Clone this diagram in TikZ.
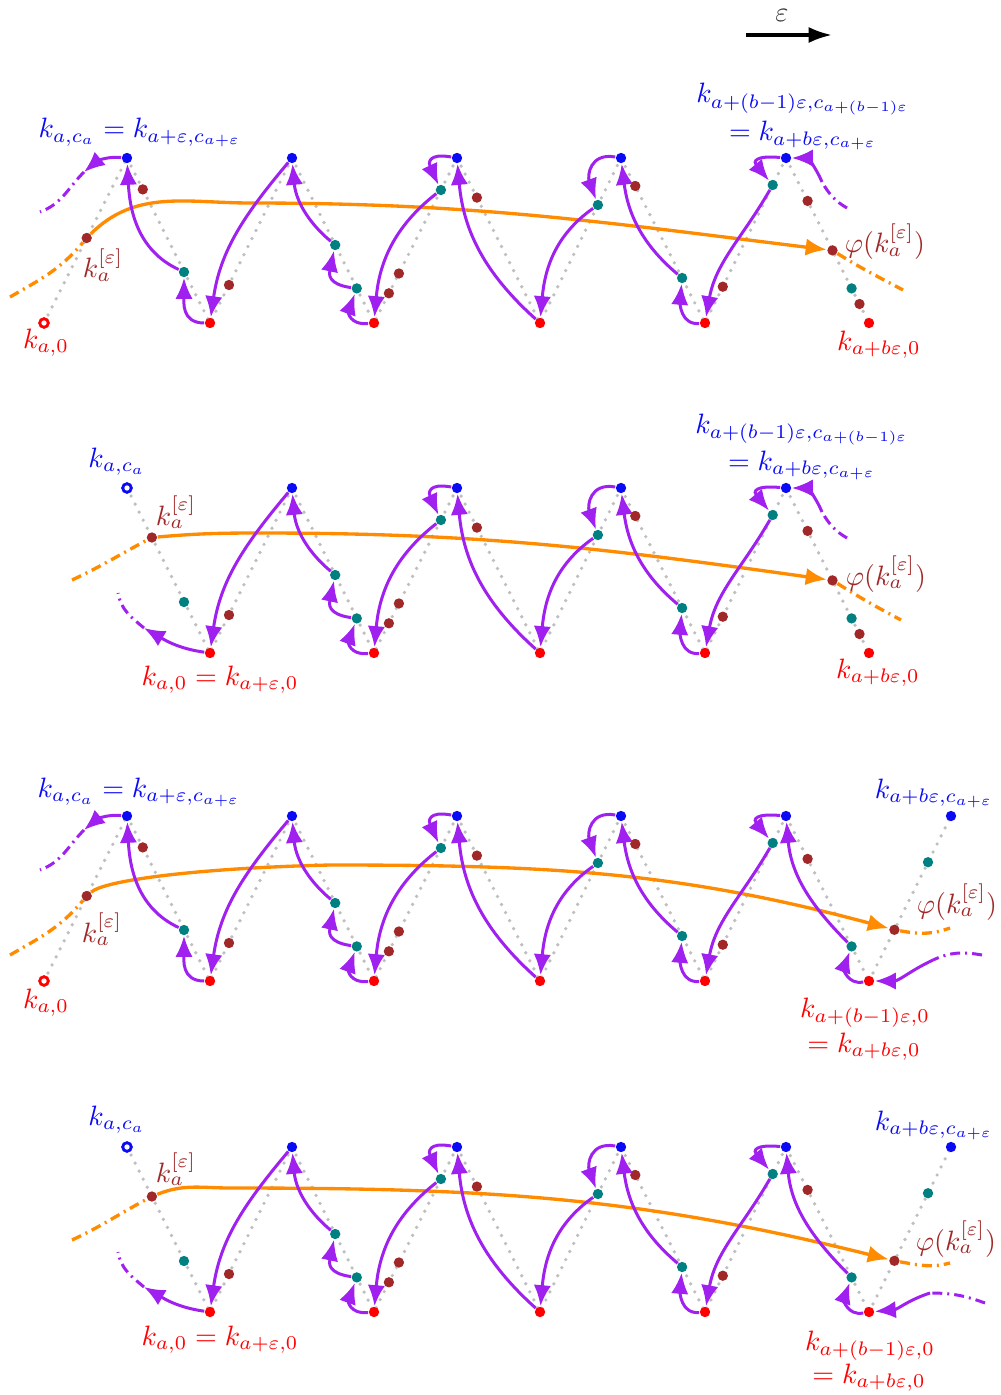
\documentclass[tikz,border=0pt]{standalone}
\usepackage{graphicx}
\usetikzlibrary{arrows.meta}
\pgfdeclarelayer{bg}
\pgfsetlayers{bg,main}
\definecolor{vio}{RGB}{160,32,240}
\definecolor{org}{RGB}{255,140,0}
\definecolor{brn}{RGB}{160,40,40}
\definecolor{tl}{RGB}{0,128,128}
\definecolor{bl}{RGB}{10,10,245}
\definecolor{rd}{RGB}{255,0,0}
\newcommand\lbsc[1]{\scalebox{0.84}{#1}}
\tikzset{
  dotpt/.style={circle,inner sep=0pt,minimum size=3.1pt,fill=#1},
  ringpt/.style={circle,inner sep=0pt,minimum size=2.6pt,draw=#1,line width=0.85pt,fill=white},
  bpt/.style={dotpt=bl}, rpt/.style={dotpt=rd}, tpt/.style={dotpt=tl}, npt/.style={dotpt=brn},
  gDot/.style={draw=gray!50,line width=1.1pt,line cap=round,dash pattern=on 0pt off 2.7pt},
  pArr/.style={draw=vio,line width=0.9pt,-{Latex[length=6.3pt,width=5.2pt]}},
  pDash/.style={draw=vio,line width=0.9pt,dash pattern=on 3pt off 1.5pt on 0.6pt off 1.5pt},
  oArr/.style={draw=org,line width=1pt,-{Latex[length=6.3pt,width=5.2pt]}},
  oDash/.style={draw=org,line width=1pt,dash pattern=on 3pt off 1.5pt on 0.6pt off 1.5pt},
  labl/.style={anchor=base,inner sep=0pt},
}
\newcommand\kcore[1]{%
  \node[rpt] (#1R1) at (210,-323) {};
  \node[bpt] (#1B2) at (292,-158) {};
  \node[rpt] (#1R2) at (374,-323) {};
  \node[bpt] (#1B3) at (457,-158) {};
  \node[rpt] (#1R3) at (540,-323) {};
  \node[bpt] (#1B4) at (621,-158) {};
  \node[rpt] (#1R4) at (705,-323) {};
  \node[bpt] (#1B5) at (786,-158) {};
  \node[rpt] (#1R5) at (869,-323) {};
  \node[tpt] (#1T2) at (184,-272) {};
  \node[npt] (#1N3) at (229,-285) {};
  \node[tpt] (#1T4a) at (335.2,-245) {};
  \node[tpt] (#1T4b) at (356.8,-288.4) {};
  \node[npt] (#1N5a) at (388.9,-293.3) {};
  \node[npt] (#1N5b) at (398.9,-273.5) {};
  \node[tpt] (#1T5) at (440.9,-190) {};
  \node[npt] (#1N6) at (476.9,-197.6) {};
  \node[tpt] (#1T7) at (597.9,-205) {};
  \node[npt] (#1N8) at (635.3,-186) {};
  \node[tpt] (#1T8) at (682.1,-278) {};
  \node[npt] (#1N9) at (722.8,-286.7) {};
  \node[tpt] (#1T9) at (772.7,-185) {};
  \node[npt] (#1N10) at (807.6,-200.9) {};
  \node[tpt] (#1T10) at (851.6,-288.4) {};
  \begin{pgfonlayer}{bg}
    \draw[gDot] (#1B1.center) -- (#1R1.center) -- (#1B2.center) -- (#1R2.center) -- (#1B3.center)
      -- (#1R3.center) -- (#1B4.center) -- (#1R4.center) -- (#1B5.center) -- (#1R5.center);
  \end{pgfonlayer}
}
\newcommand\kchain[1]{%
  \draw[pArr] (#1B5) to[out=175,in=130,looseness=2.5] (#1T9);
  \draw[pArr] (#1T9) to[out=240,in=80] (#1R4);
  \draw[pArr] (#1R4) to[out=185,in=265,looseness=1.1] (#1T8);
  \draw[pArr] (#1T8) to[out=140,in=277] (#1B4);
  \draw[pArr] (#1B4) to[out=170,in=110,looseness=1.4] (#1T7);
  \draw[pArr] (#1T7) to[out=215,in=85] (#1R3);
  \draw[pArr] (#1R3) to[out=138,in=275] (#1B3);
  \draw[pArr] (#1B3) to[out=170,in=115,looseness=2] (#1T5);
  \draw[pArr] (#1T5) to[out=218,in=85] (#1R2);
  \draw[pArr] (#1R2) to[out=185,in=250,looseness=1.5] (#1T4b);
  \draw[pArr] (#1T4b) to[out=172,in=258,looseness=1.5] (#1T4a);
  \draw[pArr] (#1T4a) to[out=140,in=275] (#1B2);
  \draw[pArr] (#1B2) to[out=230,in=82] (#1R1);
}
\begin{document}
\begin{tikzpicture}[x=0.3pt,y=0.3pt]
\useasboundingbox (0,0) rectangle (1001,-1395);

% epsilon arrow
\node[text=black!80] (eps) at (782,-15) {\lbsc{$\varepsilon$}};
\coordinate (ea) at (746,-35);
\coordinate (eb) at (832,-35);
\draw[line width=1pt,-{Latex[length=7pt,width=4.8pt]}] (ea) -- (eb);

% ---------------- panel 1
\begin{scope}
  \node[ringpt=rd] (aR0) at (44,-323) {};
  \node[bpt] (aB1) at (127,-158) {};
  \kcore{a}
  \node[npt] (aK) at (86.7,-238) {};
  \node[npt] (aN2) at (142.8,-189.4) {};
  \node[npt] (aP) at (832.5,-250.4) {};
  \node[npt] (aN10b) at (859.5,-304) {};
  \begin{pgfonlayer}{bg}\draw[gDot] (aR0.center) -- (aB1.center);\end{pgfonlayer}
  \coordinate (aO0) at (10,-297);
  \coordinate (aO1) at (250,-203);
  \coordinate (aO2) at (903,-290);
  \draw[oDash] (aO0) to[out=30,in=230] (aK);
  \draw[oArr] (aK) to[out=45,in=180] (aO1) to[out=0,in=173] (aP);
  \draw[oDash] (aP) to[out=-32,in=152] (aO2);
  \kchain{a}
  \draw[pArr] (aR1) to[out=180,in=270,looseness=1.2] (aT2);
  \draw[pArr] (aT2) to[out=155,in=273] (aB1);
  \coordinate (aL1) at (84,-172);
  \coordinate (aL2) at (40,-212);
  \draw[pArr] (aB1) to[out=175,in=40] (aL1);
  \draw[pDash] (aL1) to[out=225,in=20] (aL2);
  \coordinate (aE1) at (847,-208);
  \coordinate (aE2) at (822,-182);
  \draw[pDash] (aE1) to[out=150,in=300] (aE2);
  \draw[pArr] (aE2) to[out=112,in=0] (aB5);
\end{scope}

% ---------------- panel 2
\begin{scope}[shift={(0,-330)}]
  \node[ringpt=bl] (bB1) at (127,-158) {};
  \kcore{b}
  \node[npt] (bK) at (151.9,-207.5) {};
  \node[npt] (bP) at (832.5,-250.4) {};
  \node[npt] (bN10b) at (859.5,-304) {};
  \coordinate (bO0) at (72,-250);
  \coordinate (bO1) at (260,-203);
  \coordinate (bO2) at (901,-290);
  \draw[oDash] (bO0) to[out=25,in=208] (bK);
  \draw[oArr] (bK) to[out=5,in=180] (bO1) to[out=0,in=172] (bP);
  \draw[oDash] (bP) to[out=-32,in=152] (bO2);
  \kchain{b}
  \coordinate (bL1) at (144,-298);
  \coordinate (bL2) at (118,-263);
  \draw[pArr] (bR1) to[out=172,in=-30] (bL1);
  \draw[pDash] (bL1) to[out=140,in=-80] (bL2);
  \coordinate (bE1) at (847,-208);
  \coordinate (bE2) at (822,-182);
  \draw[pDash] (bE1) to[out=150,in=300] (bE2);
  \draw[pArr] (bE2) to[out=112,in=0] (bB5);
\end{scope}

% ---------------- panel 3
\begin{scope}[shift={(0,-658)}]
  \node[ringpt=rd] (cR0) at (44,-323) {};
  \node[bpt] (cB1) at (127,-158) {};
  \kcore{c}
  \node[bpt] (cB6) at (951,-158) {};
  \node[npt] (cK) at (86.7,-238) {};
  \node[npt] (cN2) at (142.8,-189.4) {};
  \node[npt] (cP) at (894.4,-271.8) {};
  \node[tpt] (cT11) at (928,-204.2) {};
  \begin{pgfonlayer}{bg}
    \draw[gDot] (cR0.center) -- (cB1.center);
    \draw[gDot] (cR5.center) -- (cB6.center);
  \end{pgfonlayer}
  \coordinate (cO0) at (10,-297);
  \coordinate (cO1) at (330,-207);
  \coordinate (cO2) at (950,-270);
  \draw[oDash] (cO0) to[out=30,in=230] (cK);
  \draw[oArr] (cK) .. controls (105,-222) and (200,-210) .. (cO1) to[out=0,in=165] (cP);
  \draw[oDash] (cP) to[out=-10,in=200] (cO2);
  \kchain{c}
  \draw[pArr] (cR1) to[out=180,in=270,looseness=1.2] (cT2);
  \draw[pArr] (cT2) to[out=155,in=273] (cB1);
  \coordinate (cL1) at (84,-172);
  \coordinate (cL2) at (40,-212);
  \draw[pArr] (cB1) to[out=175,in=40] (cL1);
  \draw[pDash] (cL1) to[out=225,in=20] (cL2);
  \coordinate (cE1) at (982,-297);
  \coordinate (cE2) at (933,-302);
  \draw[pDash] (cE1) to[out=170,in=25] (cE2);
  \draw[pArr] (cE2) to[out=205,in=0] (cR5);
  \draw[pArr] (cR5) to[out=190,in=250,looseness=1.3] (cT10);
  \draw[pArr] (cT10) to[out=135,in=275] (cB5);
\end{scope}

% ---------------- panel 4
\begin{scope}[shift={(0,-989)}]
  \node[ringpt=bl] (dB1) at (127,-158) {};
  \kcore{d}
  \node[bpt] (dB6) at (951,-158) {};
  \node[npt] (dK) at (151.9,-207.5) {};
  \node[npt] (dP) at (894.4,-271.8) {};
  \node[tpt] (dT11) at (928,-204.2) {};
  \begin{pgfonlayer}{bg}
    \draw[gDot] (dR5.center) -- (dB6.center);
  \end{pgfonlayer}
  \coordinate (dO0) at (72,-251);
  \coordinate (dO1) at (230,-199);
  \coordinate (dO2) at (950,-274);
  \draw[oDash] (dO0) to[out=25,in=208] (dK);
  \draw[oArr] (dK) to[out=22,in=180] (dO1) to[out=0,in=166] (dP);
  \draw[oDash] (dP) to[out=-10,in=195] (dO2);
  \kchain{d}
  \coordinate (dL1) at (144,-298);
  \coordinate (dL2) at (118,-263);
  \draw[pArr] (dR1) to[out=172,in=-30] (dL1);
  \draw[pDash] (dL1) to[out=140,in=-80] (dL2);
  \coordinate (dE1) at (985,-314);
  \coordinate (dE2) at (930,-304);
  \draw[pDash] (dE1) to[out=160,in=0] (dE2);
  \draw[pArr] (dE2) to[out=198,in=5] (dR5);
  \draw[pArr] (dR5) to[out=190,in=250,looseness=1.3] (dT10);
  \draw[pArr] (dT10) to[out=135,in=275] (dB5);
\end{scope}

% ---------------- labels
% panel 1
\node[labl,text=bl] (l1a) at (140,-138) {\lbsc{$k_{a,c_a} = k_{a+\varepsilon,c_{a+\varepsilon}}$}};
\node[labl,text=rd] (l1b) at (46,-348) {\lbsc{$k_{a,0}$}};
\node[labl,text=brn] (l1c) at (103,-278) {\lbsc{$k_a^{[\varepsilon]}$}};
\node[labl,text=bl] (l1d) at (803,-103) {\lbsc{$k_{a+(b-1)\varepsilon,c_{a+(b-1)\varepsilon}}$}};
\node[labl,text=bl] (l1e) at (803,-141) {\lbsc{$= k_{a+b\varepsilon,c_{a+\varepsilon}}$}};
\node[labl,text=brn] (l1f) at (885,-253) {\lbsc{$\varphi(k_a^{[\varepsilon]})$}};
\node[labl,text=rd] (l1g) at (879,-350) {\lbsc{$k_{a+b\varepsilon,0}$}};
% panel 2
\node[labl,text=bl] (l2a) at (117,-467) {\lbsc{$k_{a,c_a}$}};
\node[labl,text=brn] (l2b) at (176,-525) {\lbsc{$k_a^{[\varepsilon]}$}};
\node[labl,text=rd] (l2c) at (220,-685) {\lbsc{$k_{a,0} = k_{a+\varepsilon,0}$}};
\node[labl,text=bl] (l2d) at (802,-433) {\lbsc{$k_{a+(b-1)\varepsilon,c_{a+(b-1)\varepsilon}}$}};
\node[labl,text=bl] (l2e) at (802,-470) {\lbsc{$= k_{a+b\varepsilon,c_{a+\varepsilon}}$}};
\node[labl,text=brn] (l2f) at (886,-585) {\lbsc{$\varphi(k_a^{[\varepsilon]})$}};
\node[labl,text=rd] (l2g) at (878,-678) {\lbsc{$k_{a+b\varepsilon,0}$}};
% panel 3
\node[labl,text=bl] (l3a) at (139,-797) {\lbsc{$k_{a,c_a} = k_{a+\varepsilon,c_{a+\varepsilon}}$}};
\node[labl,text=rd] (l3b) at (46,-1008) {\lbsc{$k_{a,0}$}};
\node[labl,text=brn] (l3c) at (102,-942) {\lbsc{$k_a^{[\varepsilon]}$}};
\node[labl,text=bl] (l3d) at (934,-798) {\lbsc{$k_{a+b\varepsilon,c_{a+\varepsilon}}$}};
\node[labl,text=brn] (l3e) at (957,-913) {\lbsc{$\varphi(k_a^{[\varepsilon]})$}};
\node[labl,text=rd] (l3f) at (865,-1017) {\lbsc{$k_{a+(b-1)\varepsilon,0}$}};
\node[labl,text=rd] (l3g) at (864,-1052) {\lbsc{$= k_{a+b\varepsilon,0}$}};
% panel 4
\node[labl,text=bl] (l4a) at (117,-1125) {\lbsc{$k_{a,c_a}$}};
\node[labl,text=brn] (l4b) at (176,-1182) {\lbsc{$k_a^{[\varepsilon]}$}};
\node[labl,text=rd] (l4c) at (220,-1345) {\lbsc{$k_{a,0} = k_{a+\varepsilon,0}$}};
\node[labl,text=bl] (l4d) at (934,-1130) {\lbsc{$k_{a+b\varepsilon,c_{a+\varepsilon}}$}};
\node[labl,text=brn] (l4e) at (956,-1250) {\lbsc{$\varphi(k_a^{[\varepsilon]})$}};
\node[labl,text=rd] (l4f) at (870,-1350) {\lbsc{$k_{a+(b-1)\varepsilon,0}$}};
\node[labl,text=rd] (l4g) at (869,-1383) {\lbsc{$= k_{a+b\varepsilon,0}$}};
\end{tikzpicture}
\end{document}
